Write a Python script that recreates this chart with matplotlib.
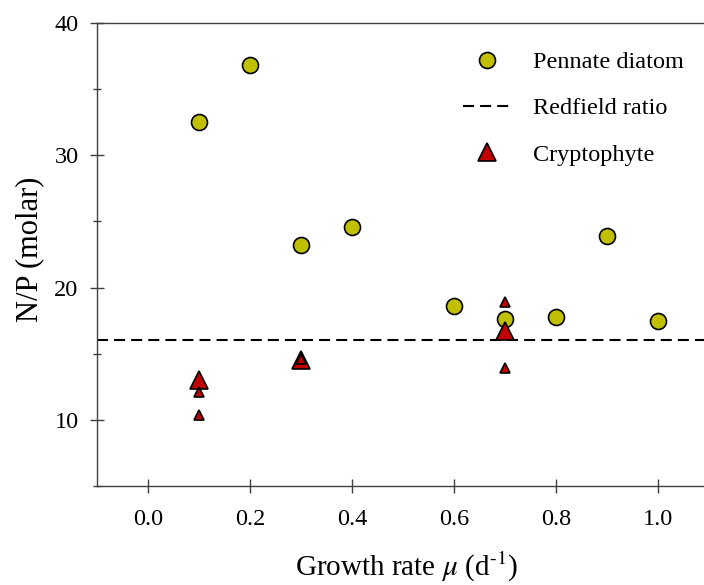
import numpy as np
import matplotlib
matplotlib.use("Agg")
import matplotlib.pyplot as plt
from matplotlib.ticker import MultipleLocator

# --- data ---
diatom_mu = [0.1, 0.2, 0.3, 0.4, 0.6, 0.7, 0.8, 0.9, 1.0]
diatom_np = [32.5, 36.8, 23.2, 24.6, 18.6, 17.6, 17.8, 23.9, 17.5]

crypto_big_mu = [0.1, 0.3, 0.7]
crypto_big_np = [13.0, 14.5, 16.7]

crypto_small_mu = [0.1, 0.1, 0.3, 0.7, 0.7]
crypto_small_np = [12.1, 10.4, 14.6, 18.9, 13.9]

redfield = 16.0

x_ticks = [0.0, 0.2, 0.4, 0.6, 0.8, 1.0]
y_ticks = [10, 20, 30, 40]

plt.rcParams['font.family'] = ['Liberation Serif', 'DejaVu Serif']
plt.rcParams['mathtext.fontset'] = 'stix'

fig = plt.figure(figsize=(7.04, 5.85), dpi=100)
ax = fig.add_axes([0.1378, 0.1692, 0.8622, 0.7915])

yellow = '#c0c000'
red = '#c00000'
edge = '#000000'

ax.axhline(redfield, color='black', lw=1.5, dashes=(5.3, 2.9), zorder=1,
           label='Redfield ratio')
ax.plot(diatom_mu, diatom_np, 'o', ms=11.5, mfc=yellow, mec=edge, mew=1.2,
        zorder=3, label='Pennate diatom')
ax.plot(crypto_big_mu, crypto_big_np, '^', ms=13.5, mfc=red, mec=edge, mew=1.2,
        zorder=4, label='Cryptophyte')
ax.plot(crypto_small_mu, crypto_small_np, '^', ms=7.5, mfc=red, mec=edge, mew=1.2,
        zorder=5)

ax.set_xlim(-0.1, 1.09)
ax.set_ylim(5, 40)
ax.set_xticks(x_ticks)
ax.set_xticklabels([f"{t:.1f}" for t in x_ticks])
ax.set_yticks(y_ticks)
ax.yaxis.set_minor_locator(MultipleLocator(5))

for s in ['left', 'top', 'bottom']:
    ax.spines[s].set_color('#404040')
    ax.spines[s].set_linewidth(1.0)
ax.spines['right'].set_visible(False)

ax.tick_params(axis='both', which='major', direction='inout', length=9.5,
               width=1.0, color='#404040', labelsize=17.5)
ax.tick_params(axis='y', which='minor', direction='inout', length=6,
               width=1.0, color='#404040')
ax.tick_params(axis='x', which='major', pad=12)
ax.tick_params(axis='y', which='major', pad=8.5)
ax.tick_params(top=False, right=False)

ax.set_xlabel(r'Growth rate $\mu$ (d$^{\text{-1}}$)', fontsize=21, labelpad=14)
ax.xaxis.label.set_x(0.51)
ax.set_ylabel('N/P (molar)', fontsize=22, labelpad=7)
ax.yaxis.label.set_y(0.512)

handles, labels = ax.get_legend_handles_labels()
order = [1, 0, 2]
ax.legend([handles[i] for i in order], [labels[i] for i in order],
          loc='upper left', bbox_to_anchor=(463 / 704, 1 - 51 / 585),
          bbox_transform=fig.transFigure, frameon=False, fontsize=17.5,
          numpoints=1, handlelength=1.95, handletextpad=0.95,
          labelspacing=1.0, borderpad=0, borderaxespad=0)

fig.savefig('out.png', dpi=100)
